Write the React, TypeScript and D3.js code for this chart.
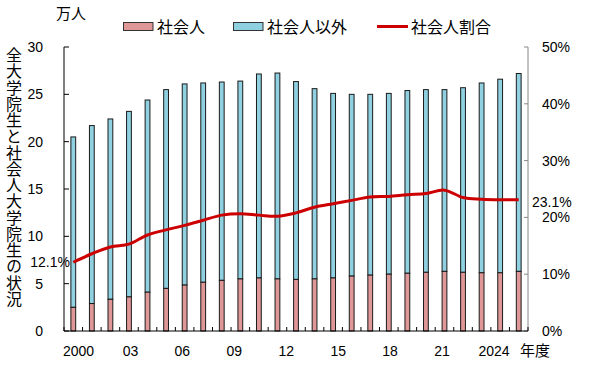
import React from "react";
import * as d3 from "d3";

const years = [2000, 2001, 2002, 2003, 2004, 2005, 2006, 2007, 2008, 2009, 2010, 2011, 2012, 2013, 2014, 2015, 2016, 2017, 2018, 2019, 2020, 2021, 2022, 2023, 2024];
const shakaijin = [2.5, 2.9, 3.35, 3.6, 4.1, 4.5, 4.85, 5.15, 5.35, 5.5, 5.6, 5.5, 5.45, 5.5, 5.6, 5.8, 5.9, 6.0, 6.1, 6.2, 6.3, 6.2, 6.15, 6.15, 6.3];
const others = [18.0, 18.8, 19.05, 19.6, 20.3, 21.0, 21.25, 21.05, 20.95, 20.9, 21.55, 21.75, 20.9, 20.1, 19.5, 19.2, 19.1, 19.1, 19.3, 19.3, 19.2, 19.5, 20.05, 20.45, 20.9];
const ratio = [12.1, 13.6, 14.8, 15.3, 16.9, 17.8, 18.6, 19.5, 20.4, 20.65, 20.4, 20.2, 20.8, 21.8, 22.4, 23.0, 23.6, 23.7, 24.0, 24.2, 24.8, 23.5, 23.2, 23.1, 23.1];
const leftTicks = [0, 5, 10, 15, 20, 25, 30];
const rightTicks = [0, 10, 20, 30, 40, 50];
const xLabelYears = [2000, 2003, 2006, 2009, 2012, 2015, 2018, 2021, 2024];
const xLabels = ["2000", "03", "06", "09", "12", "15", "18", "21", "2024"];
const seriesNames = ["社会人", "社会人以外", "社会人割合"];
const yTitle = "全大学院生と社会人大学院生の状況";
const firstLabel = "12.1%";
const lastLabel = "23.1%";

const PINK = "#df9797";
const BLUE = "#8fd0e1";
const RED = "#cc0000";
const NUM_FONT = "'Liberation Sans', Arial, sans-serif";
const JP_FONT = "'Noto Sans CJK JP', sans-serif";

export default function App() {
  const left = 64, right = 528, top = 47, bottom = 331;
  const x = d3.scaleBand<number>().domain(years).range([left, right]).paddingInner(0).paddingOuter(0);
  const y = d3.scaleLinear().domain([0, 30]).range([bottom, top]);
  const y2 = d3.scaleLinear().domain([0, 50]).range([bottom, top]);
  const xl = d3.scaleLinear().domain([2000, 2024]).range([78.5, 494]);
  const bw = 4.8;
  const cx = (yr: number) => (x(yr) as number) + x.bandwidth() / 2;

  const line = d3.line<number>()
    .x((_, i) => cx(years[i]))
    .y((d) => y2(d))
    .curve(d3.curveCatmullRom.alpha(0.5));

  const bounds = years.map((yr) => x(yr) as number).concat([right]);

  return (
    <svg width={600} height={368} style={{ position: "absolute", left: 0, top: 0, background: "#fff" }}>
      {years.map((yr, i) => {
        const bx = cx(yr) - bw / 2;
        const s = shakaijin[i];
        const o = others[i];
        return (
          <g key={yr}>
            <rect x={bx} y={y(s + o)} width={bw} height={y(s) - y(s + o)} fill={BLUE} stroke="#1a1a1a" strokeWidth={1} />
            <rect x={bx} y={y(s)} width={bw} height={y(0) - y(s)} fill={PINK} stroke="#1a1a1a" strokeWidth={1} />
          </g>
        );
      })}

      <path d={line(ratio) || ""} fill="none" stroke={RED} strokeWidth={3} strokeLinejoin="round" />

      <line x1={left} x2={left} y1={top} y2={bottom} stroke="#000" strokeWidth={1} />
      {leftTicks.map((t) => (
        <g key={"l" + t}>
          <line x1={left} x2={left + 5} y1={y(t)} y2={y(t)} stroke="#000" />
          <text x={43} y={y(t)} dy="0.35em" textAnchor="end" fontFamily={NUM_FONT} fontSize={14}>{t}</text>
        </g>
      ))}

      <line x1={right} x2={right} y1={top} y2={bottom} stroke="#888" strokeWidth={1} />
      {rightTicks.map((t) => (
        <g key={"r" + t}>
          <line x1={right - 4} x2={right} y1={y2(t)} y2={y2(t)} stroke="#888" />
          <text x={542} y={y2(t)} dy="0.35em" textAnchor="start" fontFamily={NUM_FONT} fontSize={14}>{t + "%"}</text>
        </g>
      ))}

      <line x1={left} x2={right} y1={bottom} y2={bottom} stroke="#000" strokeWidth={1} />
      {bounds.map((b, i) => (
        <line key={"b" + i} x1={b} x2={b} y1={bottom} y2={bottom - 4} stroke="#000" />
      ))}
      {xLabelYears.map((yr, i) => (
        <text key={"xl" + yr} x={xl(yr)} y={351} dy="0.35em" textAnchor="middle" fontFamily={NUM_FONT} fontSize={14}>{xLabels[i]}</text>
      ))}
      <text x={520} y={351} dy="0.35em" fontFamily={JP_FONT} fontSize={15}>年度</text>

      <text x={56} y={14} dy="0.35em" fontFamily={JP_FONT} fontSize={15}>万人</text>

      <text x={14} y={47} fontFamily={JP_FONT} fontSize={16} style={{ writingMode: "vertical-rl" as any }} letterSpacing={0.25}>{yTitle}</text>

      <text x={70} y={y2(ratio[0])} dy="0.35em" textAnchor="end" fontFamily={NUM_FONT} fontSize={14}>{firstLabel}</text>
      <text x={532} y={202} dy="0.35em" textAnchor="start" fontFamily={NUM_FONT} fontSize={14}>{lastLabel}</text>

      <rect x={123.5} y={22.5} width={29.5} height={8} fill={PINK} stroke="#333" />
      <text x={157} y={27} dy="0.35em" fontFamily={JP_FONT} fontSize={16}>{seriesNames[0]}</text>
      <rect x={233.5} y={22.5} width={29.5} height={8} fill={BLUE} stroke="#333" />
      <text x={267} y={27} dy="0.35em" fontFamily={JP_FONT} fontSize={16}>{seriesNames[1]}</text>
      <line x1={377} x2={408} y1={26.5} y2={26.5} stroke={RED} strokeWidth={3} />
      <text x={411} y={27} dy="0.35em" fontFamily={JP_FONT} fontSize={16}>{seriesNames[2]}</text>
    </svg>
  );
}
